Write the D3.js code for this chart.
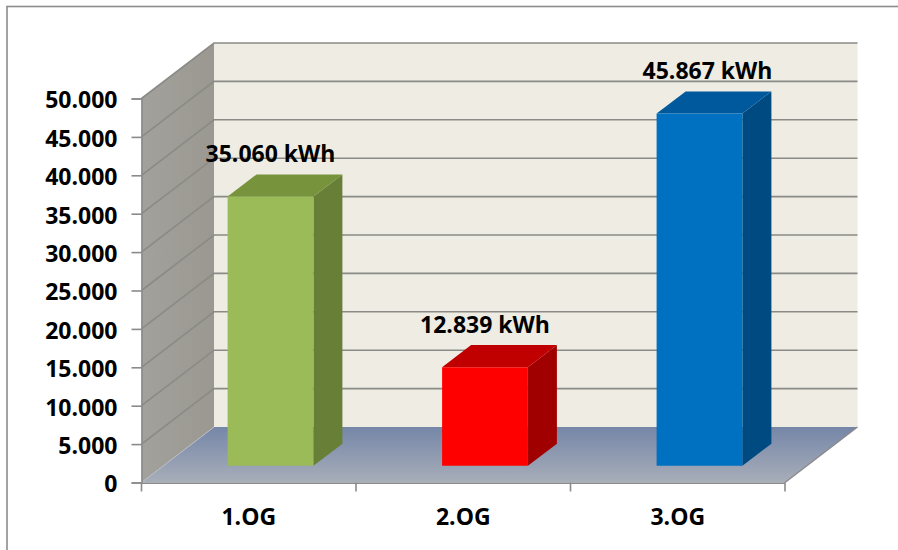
<!DOCTYPE html>
<html>
<head>
<meta charset="utf-8">
<script src="https://cdn.jsdelivr.net/npm/d3@7"></script>
<style>
  html, body { margin: 0; padding: 0; background: #ffffff; }
  svg { display: block; }
  text { font-family: "Open Sans", "Liberation Sans", sans-serif; font-weight: 700; fill: #000; }
</style>
</head>
<body>
<svg id="chart" width="898" height="550"></svg>
<script>
// Energy consumption per floor (kWh)
const categories = ["1.OG", "2.OG", "3.OG"];
const values = [35060, 12839, 45867];
const valueLabels = ["35.060 kWh", "12.839 kWh", "45.867 kWh"];
const yTicks = [0, 5000, 10000, 15000, 20000, 25000, 30000, 35000, 40000, 45000, 50000];
const frontColors = ["#9bbb59", "#ff0000", "#0070c0"];
const topColors = ["#77933c", "#c00000", "#00599c"];
const sideColors = ["#687f37", "#a00000", "#004a82"];

const svg = d3.select("#chart");

// German number format: "." as thousands separator
const de = d3.formatLocale({ decimal: ",", thousands: ".", grouping: [3], currency: ["", " €"] });
const fmt = de.format(",d");

// 3D frame: front plane and depth vector
const frontLeft = 141.5, frontRight = 785, baseY = 482.5;
const depthX = 72.5, depthY = 55.5;
const yMax = 50000;

const height = d3.scaleLinear().domain([0, yMax]).range([0, 384]);
const yFront = d3.scaleLinear().domain([0, yMax]).range([baseY, baseY - 384]);
const xBand = d3.scaleBand().domain(categories).range([frontLeft, frontRight])
  .paddingInner(0.6).paddingOuter(0.3);
const step = xBand.step();

// project (x on front plane, depth fraction z, value v) to screen
function P(x, z, v) {
  return [x + z * depthX, baseY - z * depthY - height(v)];
}
const poly = pts => "M" + pts.map(p => p.join(",")).join("L") + "Z";

// outer chart border
svg.append("rect")
  .attr("x", 7).attr("y", 6.5).attr("width", 900).attr("height", 560)
  .attr("fill", "none").attr("stroke", "#8c8c8c").attr("stroke-width", 1.6);

const defs = svg.append("defs");
const floorGrad = defs.append("linearGradient").attr("id", "floorGrad")
  .attr("x1", 0).attr("y1", 0).attr("x2", 0).attr("y2", 1);
floorGrad.append("stop").attr("offset", "0%").attr("stop-color", "#7586a8");
floorGrad.append("stop").attr("offset", "100%").attr("stop-color", "#a8aeb9");
const sideGrad = defs.append("linearGradient").attr("id", "sideGrad")
  .attr("x1", 0).attr("y1", 0).attr("x2", 1).attr("y2", 0);
sideGrad.append("stop").attr("offset", "0%").attr("stop-color", "#a3a19b");
sideGrad.append("stop").attr("offset", "100%").attr("stop-color", "#9a9891");

// back wall
svg.append("path")
  .attr("d", poly([P(frontLeft, 1, 0), P(frontRight, 1, 0), P(frontRight, 1, yMax), P(frontLeft, 1, yMax)]))
  .attr("fill", "#eeece3");

// side wall
svg.append("path")
  .attr("d", poly([P(frontLeft, 0, 0), P(frontLeft, 1, 0), P(frontLeft, 1, yMax), P(frontLeft, 0, yMax)]))
  .attr("fill", "url(#sideGrad)");

// floor
svg.append("path")
  .attr("d", poly([P(frontLeft, 0, 0), P(frontRight, 0, 0), P(frontRight, 1, 0), P(frontLeft, 1, 0)]))
  .attr("fill", "url(#floorGrad)");

// gridlines on back and side walls
const grid = svg.append("g").attr("fill", "none").attr("stroke", "#8a8a86").attr("stroke-width", 1.6);
grid.selectAll("path.g").data(yTicks.filter(t => t > 0)).join("path")
  .attr("d", t => "M" + P(frontLeft, 0, t) + "L" + P(frontLeft, 1, t) + "L" + P(frontRight, 1, t));

// floor edges
svg.append("path")
  .attr("d", "M" + P(frontRight, 0, 0) + "L" + P(frontRight, 1, 0))
  .attr("fill", "none").attr("stroke", "#8a8a8a").attr("stroke-width", 1.4);
svg.append("path")
  .attr("d", "M" + P(frontLeft, 0, 0) + "L" + P(frontLeft, 1, 0))
  .attr("fill", "none").attr("stroke", "#b9bcc2").attr("stroke-width", 1);

// bars
const z0 = 0.3, z1 = 0.7;
const bars = svg.append("g").selectAll("g").data(categories).join("g");
bars.each(function(c, i) {
  const g = d3.select(this);
  const x0 = xBand(c), x1 = xBand(c) + xBand.bandwidth();
  const v = values[i];
  // right side
  g.append("path")
    .attr("d", poly([P(x1, z0, 0), P(x1, z1, 0), P(x1, z1, v), P(x1, z0, v)]))
    .attr("fill", sideColors[i]);
  // top
  g.append("path")
    .attr("d", poly([P(x0, z0, v), P(x1, z0, v), P(x1, z1, v), P(x0, z1, v)]))
    .attr("fill", topColors[i]);
  // front
  g.append("path")
    .attr("d", poly([P(x0, z0, 0), P(x1, z0, 0), P(x1, z0, v), P(x0, z0, v)]))
    .attr("fill", frontColors[i]);
});

// value labels above each column
svg.append("g").selectAll("text").data(categories).join("text")
  .attr("x", (c, i) => P(xBand(c) + xBand.bandwidth() / 2, z0, 0)[0] + (i === 2 ? 8 : 0))
  .attr("y", (c, i) => P(0, z1, values[i])[1] - 12)
  .attr("text-anchor", "middle")
  .style("font-size", "23px")
  .text((c, i) => valueLabels[i]);

// value axis on the front plane
const yAxis = svg.append("g")
  .attr("transform", `translate(${frontLeft},0)`)
  .call(d3.axisLeft(yFront).tickValues(yTicks).tickFormat(fmt).tickSize(10).tickPadding(14));
yAxis.select(".domain").attr("stroke", "#8a8a8a").attr("stroke-width", 1.6);
yAxis.selectAll(".tick line").attr("stroke", "#8a8a8a").attr("stroke-width", 1.6);
yAxis.selectAll(".tick text")
  .style("font-size", "23px").style("font-family", "'Open Sans', sans-serif").style("font-weight", 700)
  .attr("fill", "#000").attr("dy", "0.41em");

// category axis
const xLine = svg.append("g");
xLine.append("line")
  .attr("x1", frontLeft).attr("x2", frontRight).attr("y1", baseY + 0.8).attr("y2", baseY + 0.8)
  .attr("stroke", "#8a8a8a").attr("stroke-width", 1.6);
const bounds = [frontLeft].concat(categories.map(c => xBand(c) - xBand.paddingInner() * step / 2 + step));
xLine.selectAll("line.tick").data(bounds).join("line")
  .attr("class", "tick")
  .attr("x1", d => d).attr("x2", d => d)
  .attr("y1", baseY).attr("y2", baseY + 9)
  .attr("stroke", "#8a8a8a").attr("stroke-width", 1.6);
const xAxis = svg.append("g")
  .attr("transform", `translate(0,${baseY})`)
  .call(d3.axisBottom(xBand).tickSize(0).tickPadding(0));
xAxis.select(".domain").remove();
xAxis.selectAll(".tick text")
  .attr("x", 0).attr("y", 42).attr("dy", 0)
  .style("font-size", "23px").style("font-family", "'Open Sans', sans-serif").style("font-weight", 700)
  .attr("fill", "#000")
  .attr("transform", null);
// category labels sit under the band centre (scaleBand tick already centres)
</script>
</body>
</html>
